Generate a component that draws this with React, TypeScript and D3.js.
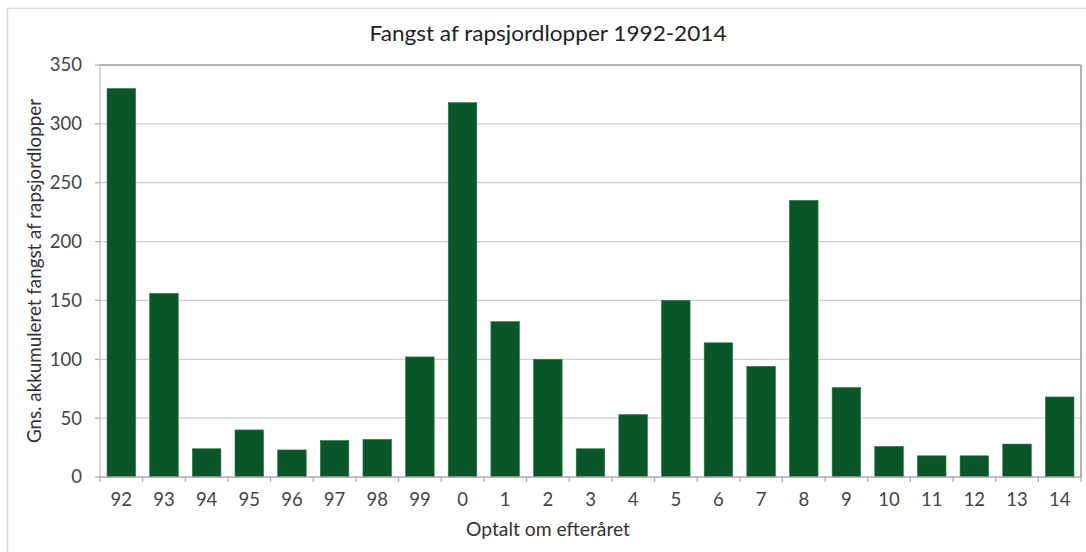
import React from "react";
import * as d3 from "d3";

const categories = ["92","93","94","95","96","97","98","99","0","1","2","3","4","5","6","7","8","9","10","11","12","13","14"];
const values = [330,156,24,40,23,31,32,102,318,132,100,24,53,150,114,94,235,76,26,18,18,28,68];
const yTicks = [0,50,100,150,200,250,300,350];

const W = 1086, H = 552;
const M = { left: 100, right: 1081, top: 65, bottom: 477 };
const FONT = "Lato, 'Open Sans', sans-serif";

export default function App() {
  const x = d3.scaleBand<string>().domain(categories).range([M.left, M.right]).paddingInner(0.33).paddingOuter(0.165);
  const y = d3.scaleLinear().domain([0, 350]).range([M.bottom, M.top]);
  const boundaries = d3.range(categories.length + 1).map(i => M.left + i * (M.right - M.left) / categories.length);
  return (
    <svg width={W} height={H} style={{ position: "absolute", left: 0, top: 0, background: "#fff" }}>
      <rect x={7.5} y={8.5} width={1100} height={600} fill="#fff" stroke="#dcdcdc" strokeWidth={1.5} />
      <text x={548} y={41} textAnchor="middle" fontFamily={FONT} fontSize={21} fill="#222" textLength={357} lengthAdjust="spacingAndGlyphs">Fangst af rapsjordlopper 1992-2014</text>
      {yTicks.map(t => (
        <g key={t}>
          {t > 0 && <line x1={M.left} x2={M.right} y1={y(t)} y2={y(t)} stroke={t === 350 ? "#9a9a9a" : "#cfcfcf"} strokeWidth={1.3} />}
          <line x1={M.left - 5} x2={M.left} y1={y(t)} y2={y(t)} stroke="#aaa" strokeWidth={1.2} />
          <text x={82} y={y(t)} dy="0.35em" textAnchor="end" fontFamily={FONT} fontSize={18.5} fill="#444">{t}</text>
        </g>
      ))}
      <line x1={M.right} x2={M.right} y1={M.top} y2={M.bottom} stroke="#8a8a8a" strokeWidth={1.3} />
      <line x1={M.left} x2={M.left} y1={M.top} y2={M.bottom} stroke="#bbb" strokeWidth={1.2} />
      {categories.map((c, i) => (
        <rect key={c} x={x(c)} y={y(values[i])} width={x.bandwidth()} height={y(0) - y(values[i])} fill="#0a5628" stroke="#2f7a48" strokeWidth={0.6} />
      ))}
      <line x1={M.left} x2={M.right} y1={M.bottom} y2={M.bottom} stroke="#aaa" strokeWidth={1.3} />
      {boundaries.map((b, i) => (
        <line key={i} x1={b} x2={b} y1={M.bottom} y2={M.bottom + 5} stroke="#aaa" strokeWidth={1.2} />
      ))}
      {categories.map(c => (
        <text key={c} x={(x(c) as number) + x.bandwidth() / 2} y={506} textAnchor="middle" fontFamily={FONT} fontSize={18.5} fill="#444">{c}</text>
      ))}
      <text x={548} y={536} textAnchor="middle" fontFamily={FONT} fontSize={19.3} fill="#333">Optalt om efteråret</text>
      <text transform={`translate(41,271) rotate(-90)`} textAnchor="middle" fontFamily={FONT} fontSize={18.8} fill="#333">Gns. akkumuleret fangst af rapsjordlopper</text>
    </svg>
  );
}
